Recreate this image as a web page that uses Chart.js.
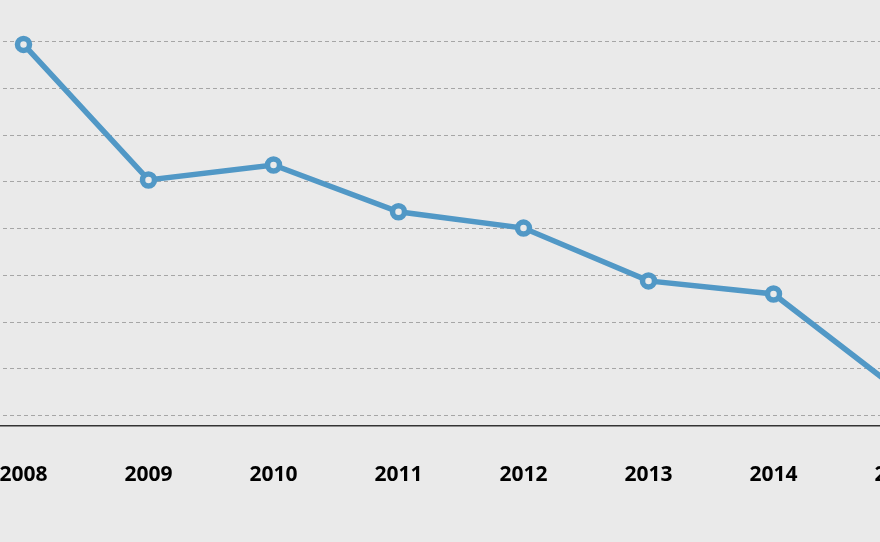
<!DOCTYPE html>
<html>
<head>
<meta charset="utf-8">
<script src="https://cdn.jsdelivr.net/npm/chart.js@4"></script>
<style>
  html, body { margin: 0; padding: 0; background: #eaeaea; overflow: hidden; }
  body { width: 880px; height: 542px; position: relative; }
  #wrap { position: absolute; left: -39.5px; top: 0; width: 1000px; height: 542px; }
</style>
</head>
<body>
<div id="wrap"><canvas id="chart"></canvas></div>
<script>
// years on the x axis
const years = ['2008', '2009', '2010', '2011', '2012', '2013', '2014', '2015'];
// series values (grid step = 10)
const values = [89.4, 60.4, 63.6, 53.6, 50.1, 38.8, 36.0, 15.4];
// y range: the chart is cropped, so the bounds sit between grid lines
const yMin = 7.8;
const yMax = 98.9;
const yStep = 10;

const lineColor = '#5198c6';

new Chart(document.getElementById('chart'), {
  type: 'line',
  data: {
    labels: years,
    datasets: [{
      data: values,
      borderColor: lineColor,
      borderWidth: 5.5,
      tension: 0,
      pointRadius: 6,
      pointBorderWidth: 5.5,
      pointBorderColor: lineColor,
      pointBackgroundColor: '#eaeaea',
      pointHoverRadius: 6
    }]
  },
  options: {
    responsive: true,
    maintainAspectRatio: false,
    animation: false,
    layout: { autoPadding: false, padding: { top: 0, left: 0, right: 0, bottom: 18 } },
    plugins: { legend: { display: false }, tooltip: { enabled: false } },
    scales: {
      x: {
        offset: true,
        grid: { display: false, drawTicks: false },
        border: { display: true, color: '#333', width: 1.5 },
        ticks: {
          padding: 36.5,
          color: '#000',
          maxRotation: 0,
          autoSkip: false,
          font: { family: 'Open Sans', size: 21, weight: 'bold' }
        }
      },
      y: {
        min: yMin,
        max: yMax,
        grid: { color: '#a6a6a6', lineWidth: 1, drawTicks: false },
        border: { display: false, dash: [4, 3] },
        ticks: { display: false, stepSize: yStep, includeBounds: false }
      }
    }
  }
});
</script>
</body>
</html>
